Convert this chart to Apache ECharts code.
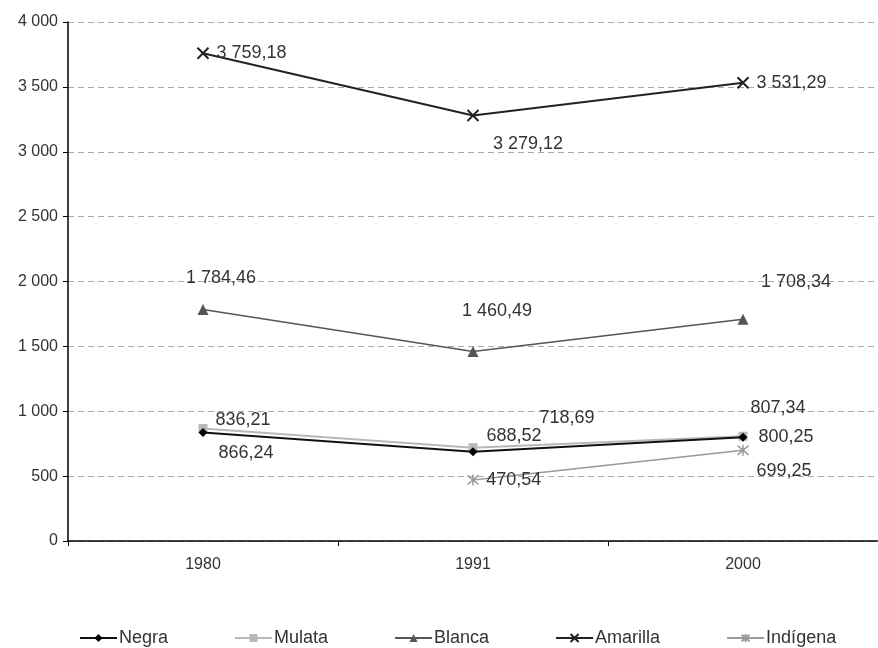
<!DOCTYPE html>
<html>
<head>
<meta charset="utf-8">
<script src="https://cdn.jsdelivr.net/npm/echarts@6/dist/echarts.min.js"></script>
<style>
  html, body { margin: 0; padding: 0; background: #fff; }
  #chart { width: 878px; height: 648px; }
</style>
</head>
<body>
<div id="chart"></div>
<script>
(function () {
  // ===== 数据 =====
  var years = ['1980', '1991', '2000'];
  var negra = [836.21, 688.52, 800.25];
  var mulata = [866.24, 718.69, 807.34];
  var blanca = [1784.46, 1460.49, 1708.34];
  var amarilla = [3759.18, 3279.12, 3531.29];
  var indigena = [null, 470.54, 699.25];

  var font = '"Liberation Sans", Arial, sans-serif';
  var txt = '#333';

  // 1 234,56 格式
  function fmt(v) {
    var parts = v.toFixed(2).split('.');
    var ip = parts[0].replace(/\B(?=(\d{3})+(?!\d))/g, ' ');
    return ip + ',' + parts[1];
  }

  // 标签偏移(每个点单独摆放,模仿原图)
  function withLabels(values, offsets) {
    return values.map(function (v, i) {
      if (v == null) return null;
      var o = offsets[i];
      return {
        value: v,
        label: { show: true, position: o.pos || 'inside', offset: o.off || [0, 0] }
      };
    });
  }

  var xSym = 'path://M0,0L10,10M10,0L0,10';
  var starSym = 'path://M0,0L10,10M10,0L0,10M5,-1L5,11';

  var labelBase = {
    show: true,
    color: txt,
    fontFamily: font,
    fontSize: 18,
    formatter: function (p) { return fmt(p.value); }
  };

  var chart = echarts.init(document.getElementById('chart'), null, { renderer: 'canvas' });

  chart.setOption({
    animation: false,
    grid: { left: 68, right: 0, top: 22, bottom: 107 },
    legend: {
      top: 624,
      left: 74,
      itemGap: 66,
      itemWidth: 37,
      itemHeight: 10,
      textStyle: { color: txt, fontFamily: font, fontSize: 18, padding: [0, 0, 0, -3] },
      data: ['Negra', 'Mulata', 'Blanca', 'Amarilla', 'Indígena']
    },
    xAxis: {
      type: 'category',
      data: years,
      boundaryGap: true,
      axisLine: { lineStyle: { color: '#000', width: 1.5 } },
      axisTick: { show: true, length: 5, inside: false, lineStyle: { color: '#000' } },
      axisLabel: { color: txt, fontFamily: font, fontSize: 16, margin: 16 },
      splitLine: { show: false }
    },
    yAxis: {
      type: 'value',
      min: 0, max: 4000, interval: 500,
      axisLine: { show: true, lineStyle: { color: '#000', width: 1.5 } },
      axisTick: { show: true, length: 5, lineStyle: { color: '#000' } },
      axisLabel: {
        color: txt, fontFamily: font, fontSize: 16, margin: 10,
        formatter: function (v) { return String(v).replace(/\B(?=(\d{3})+(?!\d))/g, ' '); }
      },
      splitLine: { lineStyle: { color: '#aaa', type: [6, 4], width: 1.2 } }
    },
    series: [
      {
        name: 'Negra', type: 'line', symbol: 'diamond', symbolSize: 9,
        itemStyle: { color: '#000' },
        lineStyle: { color: '#111', width: 2 },
        label: labelBase,
        data: withLabels(negra, [
          { off: [40, -12] }, { off: [41, -16] }, { pos: 'right', off: [6, 0] }
        ]),
        z: 4
      },
      {
        name: 'Mulata', type: 'line', symbol: 'rect', symbolSize: 9,
        itemStyle: { color: '#b8b8b8' },
        lineStyle: { color: '#b8b8b8', width: 2 },
        label: labelBase,
        data: withLabels(mulata, [
          { off: [43, 24] }, { off: [94, -30] }, { off: [35, -28] }
        ]),
        z: 3
      },
      {
        name: 'Blanca', type: 'line', symbol: 'triangle', symbolSize: 11,
        itemStyle: { color: '#555' },
        lineStyle: { color: '#555', width: 1.5 },
        label: labelBase,
        data: withLabels(blanca, [
          { off: [18, -31] }, { off: [24, -40] }, { off: [53, -37] }
        ]),
        z: 3
      },
      {
        name: 'Amarilla', type: 'line', symbol: xSym, symbolSize: 11,
        itemStyle: { color: 'transparent', borderColor: '#222', borderWidth: 2 },
        lineStyle: { color: '#222', width: 2 },
        label: labelBase,
        data: withLabels(amarilla, [
          { pos: 'right', off: [2, 0] }, { off: [55, 28] }, { pos: 'right', off: [2, 0] }
        ]),
        z: 3
      },
      {
        name: 'Indígena', type: 'line', symbol: starSym, symbolSize: 11,
        itemStyle: { color: 'transparent', borderColor: '#999', borderWidth: 1.5 },
        lineStyle: { color: '#999', width: 1.5 },
        label: labelBase,
        data: withLabels(indigena, [
          null, { pos: 'right', off: [2, 0] }, { off: [41, 21] }
        ]),
        z: 3
      }
    ]
  });
  window.addEventListener('resize', function () { chart.resize(); });
})();
</script>
</body>
</html>
